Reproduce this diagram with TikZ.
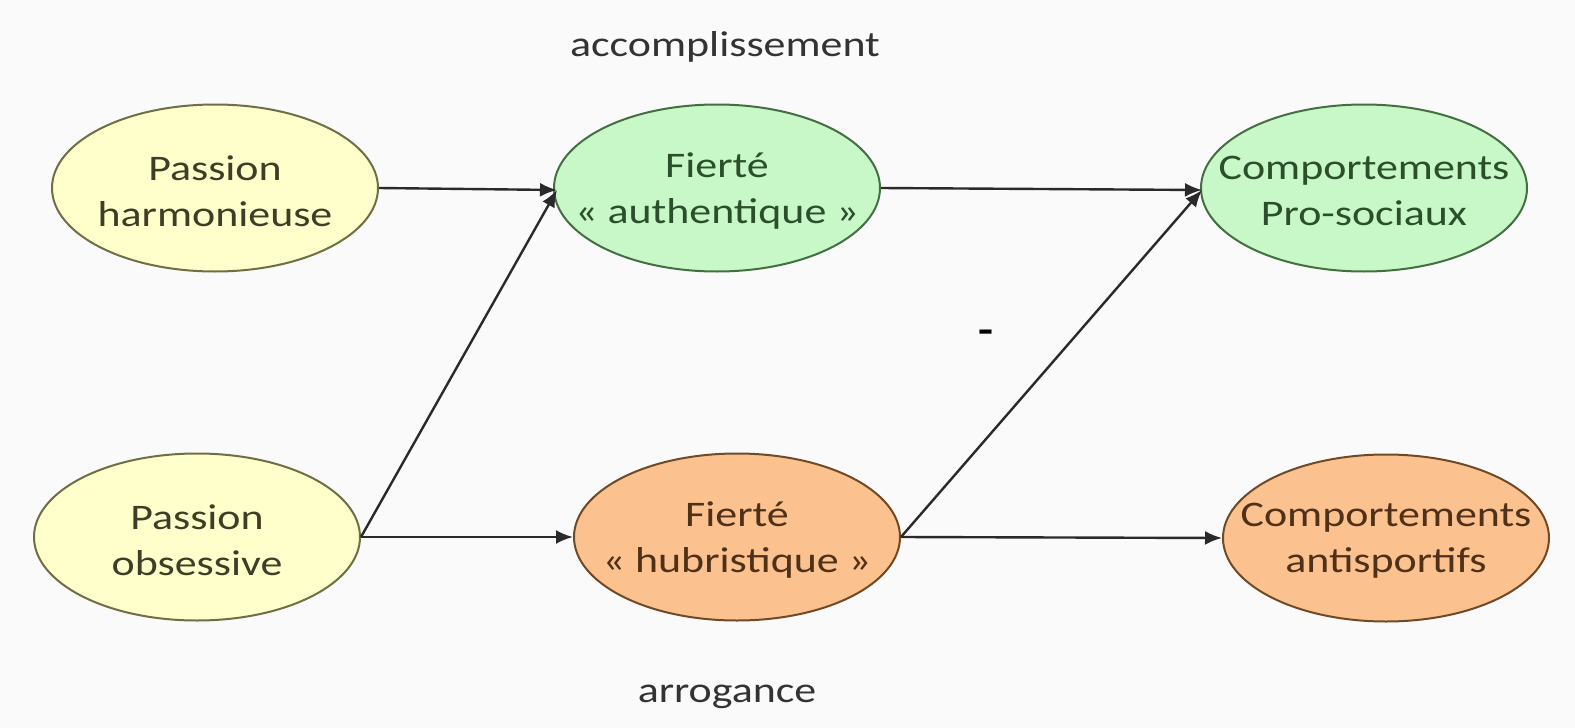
\documentclass[tikz,border=0pt]{standalone}
\usepackage{fontspec}
\setmainfont[FakeStretch=1.22]{Carlito}
\usetikzlibrary{shapes.geometric,arrows.meta}
\definecolor{bgc}{HTML}{FAFAFA}
\definecolor{yfill}{HTML}{FFFFCC}
\definecolor{ydraw}{HTML}{6F6F45}
\definecolor{ytext}{HTML}{3E3E26}
\definecolor{gfill}{HTML}{C8F7C8}
\definecolor{gdraw}{HTML}{436F43}
\definecolor{gtext}{HTML}{2A4F2A}
\definecolor{ofill}{HTML}{FBC18E}
\definecolor{odraw}{HTML}{704A26}
\definecolor{otext}{HTML}{4F3018}
\definecolor{linec}{HTML}{2A2A2A}
\tikzset{
  x=1pt, y=-1pt,
  bubble/.style={ellipse, line width=2pt, minimum width=326pt, minimum height=167pt, inner sep=0pt},
  yel/.style={bubble, fill=yfill, draw=ydraw},
  grn/.style={bubble, fill=gfill, draw=gdraw},
  org/.style={bubble, fill=ofill, draw=odraw},
  txt/.style={align=center, font=\fontsize{36}{46}\selectfont},
  link/.style={draw=linec, line width=2.4pt, -{Latex[length=17pt,width=14pt]}}
}
\begin{document}
\begin{tikzpicture}
\fill[bgc] (0,0) rectangle (1575,728);
\useasboundingbox (0,0) rectangle (1575,728);

% ellipses
\node[yel] (ph) at (215,188) {};
\node[grn] (fa) at (717,188) {};
\node[grn] (cp) at (1364,188) {};
\node[yel] (po) at (197,537) {};
\node[org] (fh) at (737,537) {};
\node[org] (ca) at (1386,538) {};

% texts inside
\node[txt, text=ytext] (phT) at ([yshift=-3pt]ph) {Passion\\harmonieuse};
\node[txt, text=gtext] (faT) at ([yshift=-3pt]fa) {Fierté\\« authentique »};
\node[txt, text=gtext] (cpT) at ([yshift=-3pt]cp) {Comportements\\Pro-sociaux};
\node[txt, text=ytext] (poT) at ([yshift=-3pt]po) {Passion\\obsessive};
\node[txt, text=otext] (fhT) at ([yshift=-3pt]fh) {Fierté\\« hubristique »};
\node[txt, text=otext] (caT) at ([yshift=-3pt]ca) {Comportements\\antisportifs};

% free labels
\node[txt, text=black!80] (acc) at (725,47) {accomplissement};
\node[txt, text=black!80] (arr) at (727,697) {arrogance};
\node[txt, text=black, font=\fontsize{40}{46}\selectfont\bfseries] (neg) at (986,337) {-};

% connector end points
\coordinate (faIn) at (557,190);
\coordinate (cpIn) at (1202,190);

% connectors
\draw[link] (ph.east) -- (faIn);
\draw[link] (po.east) -- (faIn);
\draw[link] (po.east) -- (fh.west);
\draw[link] (fa.east) -- (cpIn);
\draw[link] (fh.east) -- (cpIn);
\draw[link] (fh.east) -- (ca.west);
\end{tikzpicture}
\end{document}
